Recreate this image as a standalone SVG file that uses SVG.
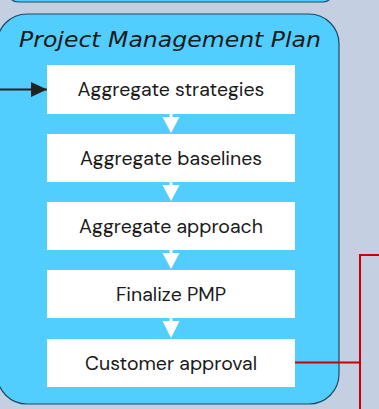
<svg xmlns="http://www.w3.org/2000/svg" width="379" height="409" viewBox="0 0 379 409">
<defs>
<style>
.box{fill:#ffffff}
.lbl{font-family:"DM Sans","Inter","Noto Sans",sans-serif;font-size:19.5px;fill:#1a1a1a;text-anchor:middle;dominant-baseline:central}
.wa{fill:#ffffff}
</style>
<marker id="blk" markerWidth="16" markerHeight="15" refX="16" refY="7.5" orient="auto" markerUnits="userSpaceOnUse" viewBox="0 0 16 15">
<path d="M0,0 L16,7.5 L0,15 Z" fill="#222"/>
</marker>
</defs>
<rect width="379" height="409" fill="#c4d0e1"/>
<g id="top-container">
<rect x="8" y="-40" width="325" height="42" rx="10" fill="#51cdfe" stroke="#1a4a66" stroke-width="1.2"/>
</g>
<g id="pmp-container">
<rect x="-3" y="14" width="342" height="390" rx="30" fill="#51cdfe" stroke="#1a4a66" stroke-width="1.2"/>
<text x="170" y="47" font-family="'Segoe Print','Comic Sans MS','DejaVu Sans',cursive" font-style="italic" font-size="22" fill="#1a1a1a" text-anchor="middle" textLength="302" lengthAdjust="spacingAndGlyphs">Project Management Plan</text>
</g>
<g id="connectors">
<line x1="0" y1="89.5" x2="47" y2="89.5" stroke="#222" stroke-width="2" marker-end="url(#blk)"/>
<g class="wa">
<rect x="169.5" y="114" width="3" height="4"/><path d="M162.5,117 L179.5,117 L171,133 Z"/>
<rect x="169.5" y="182" width="3" height="4"/><path d="M162.5,185 L179.5,185 L171,201 Z"/>
<rect x="169.5" y="250" width="3" height="4"/><path d="M162.5,253 L179.5,253 L171,269 Z"/>
<rect x="169.5" y="318" width="3" height="4"/><path d="M162.5,321 L179.5,321 L171,338 Z"/>
</g>
<path d="M295,362.5 L360,362.5 M379,255 L360,255 L360,409" fill="none" stroke="#cc0000" stroke-width="2"/>
</g>
<g id="n1"><rect class="box" x="47" y="65" width="248" height="49"/><text class="lbl" x="171" y="89.5">Aggregate strategies</text></g>
<g id="n2"><rect class="box" x="47" y="134" width="248" height="48"/><text class="lbl" x="171" y="158">Aggregate baselines</text></g>
<g id="n3"><rect class="box" x="47" y="202" width="248" height="48"/><text class="lbl" x="171" y="226">Aggregate approach</text></g>
<g id="n4"><rect class="box" x="47" y="270" width="248" height="48"/><text class="lbl" x="171" y="294">Finalize PMP</text></g>
<g id="n5"><rect class="box" x="47" y="339" width="248" height="48"/><text class="lbl" x="171" y="363">Customer approval</text></g>
</svg>
